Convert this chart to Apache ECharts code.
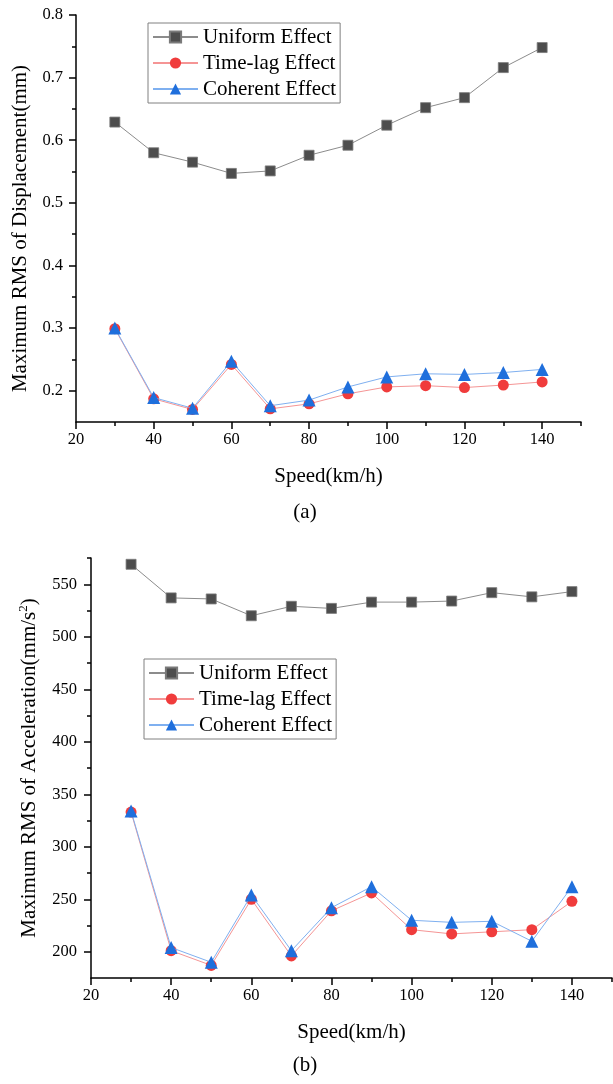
<!DOCTYPE html>
<html>
<head>
<meta charset="utf-8">
<title>Maximum RMS vs speed</title>
<script src="https://cdn.jsdelivr.net/npm/echarts@6.0.0/dist/echarts.min.js"></script>
<style>
  html, body { margin: 0; padding: 0; background: #fff; }
  #chart { width: 613px; height: 1084px; }
</style>
</head>
<body>
<div id="chart"></div>
<script>
// speeds, km/h
var speeds = [30, 40, 50, 60, 70, 80, 90, 100, 110, 120, 130, 140];

// (a) maximum RMS of displacement, mm
var dispUniform = [0.629, 0.580, 0.565, 0.547, 0.551, 0.576, 0.592, 0.624, 0.652, 0.668, 0.716, 0.748];
var dispTimeLag = [0.299, 0.187, 0.170, 0.242, 0.171, 0.179, 0.195, 0.206, 0.208, 0.205, 0.209, 0.214];
var dispCoherent = [0.300, 0.189, 0.172, 0.247, 0.176, 0.185, 0.206, 0.222, 0.227, 0.226, 0.229, 0.234];

// (b) maximum RMS of acceleration, mm/s^2
var accUniform = [569, 537, 536, 520, 529, 527, 533, 533, 534, 542, 538, 543];
var accTimeLag = [333, 201, 187, 250, 196, 239, 256, 221, 217, 219, 221, 248];
var accCoherent = [334, 204, 190, 254, 201, 242, 262, 230, 228, 229, 210, 262];

// ticks
var xLabels = [20, 40, 60, 80, 100, 120, 140];
var xMinor = [30, 50, 70, 90, 110, 130, 150];
var dispLabels = [0.2, 0.3, 0.4, 0.5, 0.6, 0.7, 0.8];
var dispMinor = [0.25, 0.35, 0.45, 0.55, 0.65, 0.75];
var accLabels = [200, 250, 300, 350, 400, 450, 500, 550];
var accMinor = [225, 275, 325, 375, 425, 475, 525, 575];

var names = ['Uniform Effect', 'Time-lag Effect', 'Coherent Effect'];

var FONT = '"Liberation Serif", "Times New Roman", serif';
var markColors = ['#4d4d4d', '#f03c3c', '#1f6fdc'];
var lineColors = ['#8c8c8c', '#f59595', '#7fb0f0'];
var symbols = ['rect', 'circle', 'triangle'];
var symbolSizes = [10, 11, 13];

function pairs(vals) {
  return speeds.map(function (s, i) { return [s, vals[i]]; });
}

// main axis (line, labels, long ticks) + overlay axis for the short minor ticks
function axisPair(dim, gridIndex, min, max, labels, minor, opts) {
  var main = {
    type: 'value', gridIndex: gridIndex, min: min, max: max,
    nameLocation: 'middle',
    nameTextStyle: { fontFamily: FONT, fontSize: 21, color: '#000' },
    axisLine: { lineStyle: { color: '#000', width: 1.5 } },
    axisTick: { customValues: labels, length: 7, lineStyle: { color: '#000', width: 1.5 } },
    axisLabel: { customValues: labels, fontFamily: FONT, fontSize: 16.5, color: '#000' },
    splitLine: { show: false }
  };
  for (var k in opts) {
    if (k === 'axisLabel') Object.assign(main.axisLabel, opts[k]);
    else if (k === 'nameTextStyle') Object.assign(main.nameTextStyle, opts[k]);
    else main[k] = opts[k];
  }
  var ticks = {
    type: 'value', gridIndex: gridIndex, min: min, max: max,
    position: dim === 'x' ? 'bottom' : 'left',
    axisLine: { show: false },
    axisLabel: { show: false },
    splitLine: { show: false },
    axisTick: { customValues: minor, length: 4, lineStyle: { color: '#000', width: 1.5 } }
  };
  return [main, ticks];
}

function seriesFor(xIdx, yIdx, sets) {
  return sets.map(function (vals, i) {
    return {
      name: names[i], type: 'line',
      xAxisIndex: xIdx, yAxisIndex: yIdx,
      data: pairs(vals),
      symbol: symbols[i], symbolSize: symbolSizes[i],
      lineStyle: { color: lineColors[i], width: 1 },
      itemStyle: {
        color: markColors[i],
        borderColor: i === 0 ? '#7a7a7a' : markColors[i],
        borderWidth: i === 0 ? 0.8 : 0
      },
      z: 2 + i
    };
  });
}

function legendAt(left, top) {
  return {
    orient: 'vertical', left: left, top: top,
    itemWidth: 45, itemHeight: 14, itemGap: 4,
    padding: [3, 4, 3, 4],
    borderColor: '#808080', borderWidth: 1, backgroundColor: '#fff',
    textStyle: { fontFamily: FONT, fontSize: 21, lineHeight: 22, color: '#000' },
    data: names
  };
}

var xA = axisPair('x', 0, 20, 150, xLabels, xMinor, { name: 'Speed(km/h)', nameGap: 44, axisLabel: { margin: 9 } });
var xB = axisPair('x', 1, 20, 150, xLabels, xMinor, { name: 'Speed(km/h)', nameGap: 44, axisLabel: { margin: 9 } });
var yA = axisPair('y', 0, 0.15, 0.8, dispLabels, dispMinor, {
  name: 'Maximum RMS of Displacement(mm)', nameGap: 45,
  nameTextStyle: { padding: [0, 20, 0, 0] },
  axisLabel: { margin: 13, formatter: function (v) { return v.toFixed(1); } }
});
var yB = axisPair('y', 1, 175, 575, accLabels, accMinor, {
  name: 'Maximum RMS of Acceleration(mm/s{sup|2})', nameGap: 50,
  nameTextStyle: { lineHeight: 24, rich: { sup: { fontFamily: FONT, fontSize: 13, color: '#000', verticalAlign: 'top', lineHeight: 24 } } },
  axisLabel: { margin: 14 }
});

var option = {
  animation: false,
  backgroundColor: '#fff',
  grid: [
    { left: 76, top: 15, width: 505, height: 407 },
    { left: 91, top: 558, width: 521, height: 420 }
  ],
  xAxis: [xA[0], xA[1], xB[0], xB[1]],
  yAxis: [yA[0], yA[1], yB[0], yB[1]],
  legend: [legendAt(148, 23), legendAt(144, 659)],
  series: seriesFor(0, 0, [dispUniform, dispTimeLag, dispCoherent])
    .concat(seriesFor(2, 2, [accUniform, accTimeLag, accCoherent])),
  graphic: [
    { type: 'text', x: 305, y: 512, style: { text: '(a)', font: '21px ' + FONT, fill: '#000', align: 'center', verticalAlign: 'middle' } },
    { type: 'text', x: 305, y: 1065, style: { text: '(b)', font: '21px ' + FONT, fill: '#000', align: 'center', verticalAlign: 'middle' } }
  ]
};

var myChart = echarts.init(document.getElementById('chart'));
myChart.setOption(option);
</script>
</body>
</html>
